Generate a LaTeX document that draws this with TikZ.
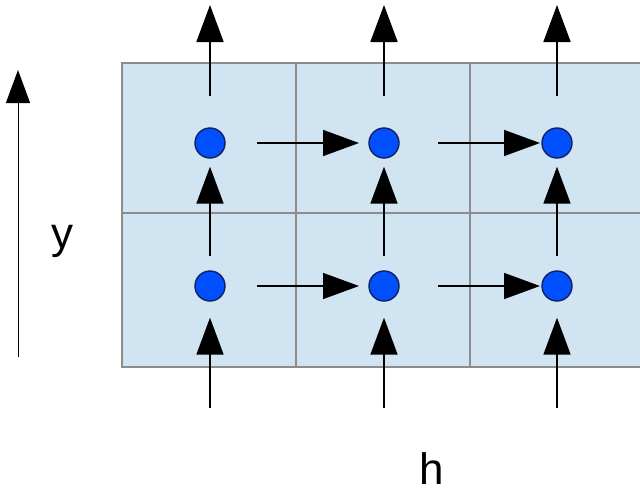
\documentclass[tikz,border=0pt]{standalone}
\usepackage{fontspec}
\setmainfont{Liberation Sans}
\usetikzlibrary{arrows.meta}
\definecolor{cellfill}{HTML}{D0E4F2}
\definecolor{gridline}{HTML}{8C8C8C}
\definecolor{dotblue}{HTML}{0050FF}
\definecolor{dotedge}{HTML}{102060}
\tikzset{
  unit/.style={circle, draw=dotedge, fill=dotblue, line width=1.4pt, minimum size=30pt, inner sep=0pt},
  flow/.style={line width=1.8pt, -{Triangle[length=37pt,width=27pt]}},
  hflow/.style={line width=1.5pt, -{Triangle[length=36pt,width=26pt]}},
  axis/.style={line width=1pt, -{Triangle[length=33pt,width=24pt]}},
  lbl/.style={font=\fontsize{44}{44}\selectfont, anchor=base, inner sep=0pt}
}
\begin{document}
\begin{tikzpicture}[x=1pt,y=-1pt]
\useasboundingbox (0,0) rectangle (640,490);
\begin{scope}
\clip (0,0) rectangle (640,490);
\fill[cellfill] (122,63) rectangle (660,367);
\draw[gridline, line width=2pt] (660,63) -- (122,63) -- (122,367) -- (660,367);
\draw[gridline, line width=2pt] (122,213) -- (660,213);
\draw[gridline, line width=2pt] (296,63) -- (296,367);
\draw[gridline, line width=2pt] (470,63) -- (470,367);
\end{scope}
% units
\node[unit] (a1) at (210,143) {};
\node[unit] (a2) at (384,143) {};
\node[unit] (a3) at (557,143) {};
\node[unit] (b1) at (210,286) {};
\node[unit] (b2) at (384,286) {};
\node[unit] (b3) at (557,286) {};
% free ends
\coordinate (t1) at (210,5);
\coordinate (t2) at (384,5);
\coordinate (t3) at (557,5);
\coordinate (u1) at (210,408);
\coordinate (u2) at (384,408);
\coordinate (u3) at (557,408);
\coordinate (ha1) at (257,143);
\coordinate (ha2) at (438,143);
\coordinate (hb1) at (257,286);
\coordinate (hb2) at (438,286);
\coordinate (ax0) at (18,357);
\coordinate (ax1) at (18,70);
% vertical arrows
\foreach \i in {1,2,3}{
  \draw[flow, shorten <=31pt] (a\i) -- (t\i);
  \draw[flow, shorten <=14pt, shorten >=8pt] (b\i) -- (a\i);
  \draw[flow, shorten >=16pt] (u\i) -- (b\i);
}
% horizontal arrows
\draw[hflow, shorten >=25pt] (ha1) -- (a2.center);
\draw[hflow, shorten >=17pt] (ha2) -- (a3.center);
\draw[hflow, shorten >=25pt] (hb1) -- (b2.center);
\draw[hflow, shorten >=17pt] (hb2) -- (b3.center);
% axis
\draw[axis] (ax0) -- (ax1);
\node[lbl] (ylab) at (62,248) {y};
\node[lbl] (hlab) at (432,484) {h};
\end{tikzpicture}
\end{document}
